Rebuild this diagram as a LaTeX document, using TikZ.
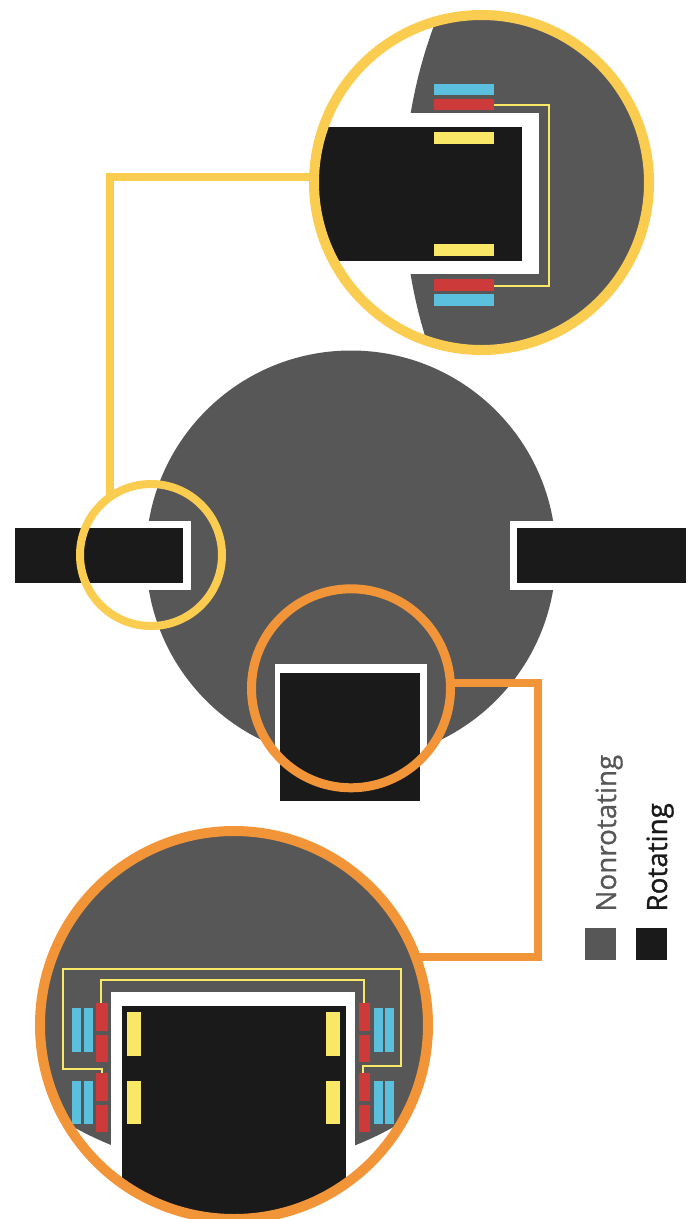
\documentclass[tikz,border=0pt]{standalone}
\usepackage{fontspec}
\setmainfont{Open Sans}
\definecolor{nonrot}{HTML}{575757}
\definecolor{rot}{HTML}{1A1A1A}
\definecolor{ringY}{HTML}{FACC50}
\definecolor{ringO}{HTML}{F29539}
\definecolor{redC}{HTML}{CC3A3A}
\definecolor{blueC}{HTML}{5BC0DE}
\definecolor{yelC}{HTML}{F9E866}
\tikzset{
  nonrotfill/.style={fill=nonrot},
  rotfill/.style={fill=rot},
  gapfill/.style={fill=white},
  coil/.style={fill=redC},
  stator/.style={fill=blueC},
  magnet/.style={fill=yelC},
  wire/.style={draw=yelC,line width=2.2pt,line join=miter},
  ring/.style={circle,draw,fill=none,inner sep=0pt,outer sep=0pt},
  link/.style={line width=8pt,line join=miter},
  legendtext/.style={font=\fontsize{27.8pt}{27.8pt}\selectfont,rotate=90,anchor=base west,inner sep=0pt},
}
\begin{document}
\begin{tikzpicture}[x=1pt,y=-1pt]
\useasboundingbox (0,0) rectangle (694,1219);
% main body
\fill[nonrotfill] (351,555.5) circle[radius=205];
\fill[gapfill] (100,521) rectangle (191.3,589.7);
\fill[gapfill] (510,521) rectangle (600,589.7);
\fill[gapfill] (275,664.3) rectangle (427.3,790);
\fill[rotfill] (15,527.5) rectangle (182.7,583.3);
\fill[rotfill] (517,527.5) rectangle (686,583.3);
\fill[rotfill] (280,673.3) rectangle (420,801);
% top detail
\begin{scope}
\clip (481.5,182.5) circle[radius=165];
\fill[nonrotfill] (890,194) circle[radius=486];
\fill[gapfill] (300,113.3) rectangle (538.7,274.3);
\fill[rotfill] (300,127.3) rectangle (522.3,260.7);
\fill[magnet] (433.7,132.3) rectangle (493.7,144);
\fill[magnet] (433.7,244.3) rectangle (493.7,256);
\draw[wire] (493.7,105) -- (548.7,105) -- (548.7,285.7) -- (493.7,285.7);
\fill[stator] (433.7,83.5) rectangle (493.7,95.3);
\fill[coil] (433.7,98.7) rectangle (493.7,110);
\fill[coil] (433.7,279.3) rectangle (493.7,291);
\fill[stator] (433.7,294) rectangle (493.7,305.7);
\end{scope}
% bottom detail
\begin{scope}
\clip (234,1025) circle[radius=191];
\fill[nonrotfill] (233.5,840.6) circle[radius=328];
\fill[gapfill] (111.3,992.3) rectangle (355,1230);
\fill[rotfill] (121.7,1006) rectangle (346,1230);
\foreach \xa in {127,326}{
  \fill[magnet] (\xa,1012) rectangle (\xa+14.3,1056.3);
  \fill[magnet] (\xa,1080.7) rectangle (\xa+14.3,1124.3);
}
\draw[wire] (101.7,1073) -- (101.7,1069.3) -- (63.3,1069.3) -- (63.3,968.7) -- (401.3,968.7) -- (401.3,1066) -- (363.3,1066) -- (363.3,1073);
\draw[wire] (100.7,1003) -- (100.7,980) -- (364,980) -- (364,1003);
\foreach \xa in {96,358.7}{
  \fill[coil] (\xa,1003.3) rectangle (\xa+11.5,1030.7);
  \fill[coil] (\xa,1035) rectangle (\xa+11.5,1061.7);
  \fill[coil] (\xa,1073.3) rectangle (\xa+11.5,1101);
  \fill[coil] (\xa,1104.7) rectangle (\xa+11.5,1132);
}
\foreach \xa in {72.3,84,373.7,384.7}{
  \fill[stator] (\xa,1008.3) rectangle (\xa+9,1052);
  \fill[stator] (\xa,1080.7) rectangle (\xa+9,1124.3);
}
\end{scope}
% rings
\node[ring,draw=ringY,line width=8pt,minimum size=142pt] (ySmall) at (151,555) {};
\node[ring,draw=ringO,line width=9pt,minimum size=199pt] (oSmall) at (351,688.3) {};
\node[ring,draw=ringY,line width=10pt,minimum size=335pt] (yBig) at (481.5,182.5) {};
\node[ring,draw=ringO,line width=10pt,minimum size=388pt] (oBig) at (234,1025) {};
% connectors
\coordinate (oTurnA) at (538,683);
\coordinate (oTurnB) at (538,957);
\draw[link,draw=ringY] (ySmall.125.8) |- (yBig.178.5);
\draw[link,draw=ringO] (oTurnA -| oSmall.3) -- (oTurnA) -- (oTurnB) -- (oTurnB -| oBig.20.5);
% legend
\fill[nonrotfill] (584.7,927.7) rectangle (615.7,960);
\fill[rotfill] (636,927.7) rectangle (667,960);
\node[legendtext,text=nonrot] (lblN) at (616,911.7) {\addfontfeature{FakeBold=0.8}Nonrotating};
\node[legendtext,text=rot] (lblR) at (667,911.7) {\addfontfeature{FakeBold=1.2}Rotating};
\end{tikzpicture}
\end{document}
